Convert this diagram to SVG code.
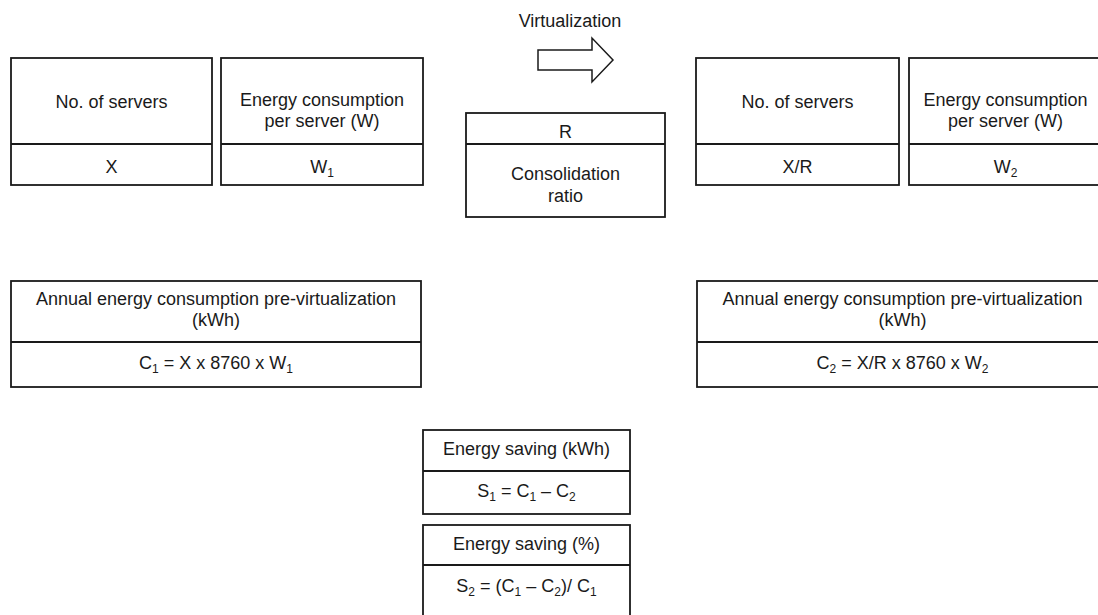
<svg xmlns="http://www.w3.org/2000/svg" width="1098" height="615" viewBox="0 0 1098 615">
  <style>
    .box { fill: #ffffff; stroke: #1a1a1a; stroke-width: 1.8; }
    .div { stroke: #1a1a1a; stroke-width: 1.8; }
    text { font-family: "Liberation Sans", Arial, sans-serif; font-size: 18px; fill: #1a1a1a; text-anchor: middle; }
    .sub { font-size: 12px; }
  </style>
  <rect width="1098" height="615" fill="#ffffff"/>

  <!-- before virtualization -->
  <g id="servers-before">
    <rect class="box" x="11" y="58" width="201" height="127"/>
    <line class="div" x1="11" y1="144" x2="212" y2="144"/>
    <text x="111.5" y="108">No. of servers</text>
    <text x="111.5" y="173">X</text>
  </g>
  <g id="power-before">
    <rect class="box" x="221" y="58" width="202" height="127"/>
    <line class="div" x1="221" y1="144" x2="423" y2="144"/>
    <text x="322" y="106">Energy consumption</text>
    <text x="322" y="127">per server (W)</text>
    <text x="322" y="173">W<tspan class="sub" dy="4">1</tspan></text>
  </g>

  <!-- virtualization step -->
  <g id="virtualization">
    <text x="570" y="27">Virtualization</text>
    <polygon points="538,50 592,50 592,38 613,60 592,82 592,70 538,70" fill="#ffffff" stroke="#1a1a1a" stroke-width="1.5"/>
  </g>
  <g id="ratio">
    <rect class="box" x="466" y="113" width="199" height="104"/>
    <line class="div" x1="466" y1="144" x2="665" y2="144"/>
    <text x="565.5" y="138">R</text>
    <text x="565.5" y="180">Consolidation</text>
    <text x="565.5" y="202">ratio</text>
  </g>

  <!-- after virtualization -->
  <g id="servers-after">
    <rect class="box" x="696" y="58" width="203" height="127"/>
    <line class="div" x1="696" y1="144" x2="899" y2="144"/>
    <text x="797.5" y="108">No. of servers</text>
    <text x="797.5" y="173">X/R</text>
  </g>
  <g id="power-after">
    <rect class="box" x="909" y="58" width="193" height="127"/>
    <line class="div" x1="909" y1="144" x2="1102" y2="144"/>
    <text x="1005.5" y="106">Energy consumption</text>
    <text x="1005.5" y="127">per server (W)</text>
    <text x="1005.5" y="173">W<tspan class="sub" dy="4">2</tspan></text>
  </g>

  <!-- annual consumption -->
  <g id="annual-before">
    <rect class="box" x="11" y="281" width="410" height="106"/>
    <line class="div" x1="11" y1="342" x2="421" y2="342"/>
    <text x="216" y="305">Annual energy consumption pre-virtualization</text>
    <text x="216" y="326">(kWh)</text>
    <text x="216" y="369">C<tspan class="sub" dy="4">1</tspan><tspan dy="-4"> = X x 8760 x W</tspan><tspan class="sub" dy="4">1</tspan></text>
  </g>
  <g id="annual-after">
    <rect class="box" x="697" y="281" width="410" height="106"/>
    <line class="div" x1="697" y1="342" x2="1107" y2="342"/>
    <text x="902.5" y="305">Annual energy consumption pre-virtualization</text>
    <text x="902.5" y="326">(kWh)</text>
    <text x="902.5" y="369">C<tspan class="sub" dy="4">2</tspan><tspan dy="-4"> = X/R x 8760 x W</tspan><tspan class="sub" dy="4">2</tspan></text>
  </g>

  <!-- savings -->
  <g id="saving-kwh">
    <rect class="box" x="423" y="430" width="207" height="84"/>
    <line class="div" x1="423" y1="471" x2="630" y2="471"/>
    <text x="526.5" y="455">Energy saving (kWh)</text>
    <text x="526.5" y="497">S<tspan class="sub" dy="4">1</tspan><tspan dy="-4"> = C</tspan><tspan class="sub" dy="4">1</tspan><tspan dy="-4"> – C</tspan><tspan class="sub" dy="4">2</tspan></text>
  </g>
  <g id="saving-pct">
    <rect class="box" x="423" y="525" width="207" height="95"/>
    <line class="div" x1="423" y1="565" x2="630" y2="565"/>
    <text x="526.5" y="550">Energy saving (%)</text>
    <text x="526.5" y="592">S<tspan class="sub" dy="4">2</tspan><tspan dy="-4"> = (C</tspan><tspan class="sub" dy="4">1</tspan><tspan dy="-4"> – C</tspan><tspan class="sub" dy="4">2</tspan><tspan dy="-4">)/ C</tspan><tspan class="sub" dy="4">1</tspan></text>
  </g>
</svg>
